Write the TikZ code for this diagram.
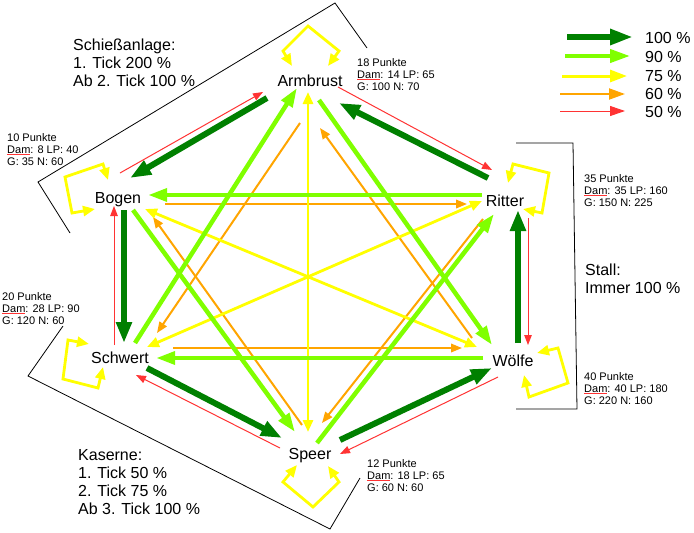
\documentclass[tikz,border=0pt]{standalone}
\usepackage{fontspec}
\setmainfont{Liberation Sans}
\usetikzlibrary{arrows.meta,calc}
\definecolor{dkg}{RGB}{0,128,0}
\definecolor{ltg}{RGB}{128,255,0}
\definecolor{yel}{RGB}{255,255,0}
\definecolor{org}{RGB}{255,165,0}
\definecolor{rd}{RGB}{255,51,51}
\newcommand\dmw{\setbox0\hbox{Dam}\rlap{\textcolor{rd}{\rule[-2pt]{\wd0}{0.8pt}}}\box0}
\tikzset{
  t100/.tip={Triangle[length=21pt,width=15pt]},
  t90/.tip={Triangle[length=19pt,width=12.5pt]},
  t75/.tip={Triangle[length=12pt,width=10pt]},
  t60/.tip={Triangle[length=11pt,width=8.5pt]},
  t50/.tip={Triangle[length=10pt,width=7.5pt]},
  e100/.style={draw=dkg, line width=6pt, -{t100}},
  e90/.style={draw=ltg, line width=4.5pt, -{t90}},
  e75/.style={draw=yel, line width=2.8pt, {t75}-{t75}},
  e60/.style={draw=org, line width=2pt, -{t60}},
  e50/.style={draw=rd, line width=1pt, -{t50}},
  loopy/.style={draw=yel, line width=2.8pt, {t75}-{t75}},
  nd/.style={inner sep=0pt, anchor=base, font=\fontsize{16}{18}\selectfont},
  big/.style={inner sep=0pt, anchor=base west, font=\fontsize{16}{18}\selectfont},
  small/.style={inner sep=0pt, anchor=base west, font=\fontsize{11}{12}\selectfont},
  brk/.style={draw=black, line width=0.8pt},
}
\begin{document}
\begin{tikzpicture}[x=1pt,y=-1pt]
\useasboundingbox (0,0) rectangle (694,533);
\fill[white] (0,0) rectangle (694,533);

% brackets
\draw[brk] (70,233) -- (38,182) -- (335,3) -- (367,48);
\draw[brk] (516,143) -- (573,143) -- (577,409) -- (516,409);
\draw[brk] (63,326) -- (28,376) -- (330,529) -- (360,478);

% nodes
\node[nd] (A) at (310,86) {Armbrust};
\node[nd] (B) at (118,203) {Bogen};
\node[nd] (R) at (505,206) {Ritter};
\node[nd] (S) at (120,363) {Schwert};
\node[nd] (W) at (513,366) {Wölfe};
\node[nd] (P) at (310,459) {Speer};

% orange 60
\draw[e60] ($(B.base)+(47,1)$) -- ($(R.base)+(-38,-2)$);
\draw[e60] ($(S.base)+(53,-15)$) -- ($(W.base)+(-51,-18)$);
\draw[e60] ($(A.base)+(-10,37)$) -- ($(S.base)+(37,-30)$);
\draw[e60] ($(P.base)+(-8,-34)$) -- ($(B.base)+(35,14)$);
\draw[e60] ($(W.base)+(-41,-28)$) -- ($(A.base)+(10,42)$);
\draw[e60] ($(R.base)+(-22,13)$) -- ($(P.base)+(12,-36)$);

% yellow 75
\draw[e75] ($(A.base)+(-2,6)$) -- ($(P.base)+(-2,-27)$);
\draw[e75] ($(B.base)+(27,6)$) -- ($(W.base)+(-36,-19)$);
\draw[e75] ($(S.base)+(27,-16)$) -- ($(R.base)+(-23,-5)$);

% light green 90
\draw[e90] ($(R.base)+(-23,-11)$) -- ($(B.base)+(30,-8)$);
\draw[e90] ($(W.base)+(-30,-8)$) -- ($(S.base)+(36,-5)$);
\draw[e90] ($(S.base)+(15,-20)$) -- ($(A.base)+(-13,2)$);
\draw[e90] ($(P.base)+(7,-16)$) -- ($(R.base)+(-11,8)$);
\draw[e90] ($(B.base)+(15,7)$) -- ($(P.base)+(-15,-27)$);
\draw[e90] ($(A.base)+(9,14)$) -- ($(W.base)+(-21,-21)$);

% dark green 100
\draw[e100] ($(A.base)+(-43,12)$) -- ($(B.base)+(12,-25)$);
\draw[e100] ($(R.base)+(-17,-28)$) -- ($(A.base)+(29,17)$);
\draw[e100] ($(B.base)+(6,7)$) -- ($(S.base)+(4,-20)$);
\draw[e100] ($(W.base)+(5,-23)$) -- ($(R.base)+(13,4)$);
\draw[e100] ($(S.base)+(27,5)$) -- ($(P.base)+(-28,-21)$);
\draw[e100] ($(P.base)+(30,-19)$) -- ($(W.base)+(-21,2)$);

% red 50
\draw[e50] ($(B.base)+(2,-30)$) -- ($(A.base)+(-47,6)$);
\draw[e50] ($(A.base)+(28,1)$) -- ($(R.base)+(-13,-36)$);
\draw[e50] ($(S.base)+(-6,-18)$) -- ($(B.base)+(-4,3)$);
\draw[e50] ($(R.base)+(23,12)$) -- ($(W.base)+(15,-21)$);
\draw[e50] ($(P.base)+(-30,-11)$) -- ($(S.base)+(16,12)$);
\draw[e50] ($(W.base)+(-15,11)$) -- ($(P.base)+(30,-5)$);

% self loops
\draw[loopy, shift={(A.base)}] (-18,-20) -- (-27,-35) -- (-2,-60) -- (29,-35) -- (18,-20);
\draw[loopy, shift={(B.base)}] (-10,-23) -- (-15,-39) -- (-53,-26) -- (-46,10) -- (-23,6);
\draw[loopy, shift={(R.base)}] (3,-23) -- (8,-42) -- (44,-33) -- (37,7) -- (18,3);
\draw[loopy, shift={(S.base)}] (-31,-19) -- (-52,-23) -- (-57,16) -- (-22,25) -- (-17,4);
\draw[loopy, shift={(W.base)}] (24,-13) -- (45,-18) -- (55,17) -- (16,31) -- (11,9);
\draw[loopy, shift={(P.base)}] (-13,6) -- (-27,23) -- (3,48) -- (29,23) -- (18,7);

% text blocks
\node[big] (schiess) at (73,50) {\vtop{\hbox{Schießanlage:}\hbox{1. Tick 200 \%}\hbox{Ab 2. Tick 100 \%}}};
\node[big] (kaserne) at (78,460) {\vtop{\hbox{Kaserne:}\hbox{1. Tick 50 \%}\hbox{2. Tick 75 \%}\hbox{Ab 3. Tick 100 \%}}};
\node[big] (stall) at (585,275) {\vtop{\hbox{Stall:}\hbox{Immer 100 \%}}};

\node[small] (ib) at (7,141) {\vtop{\hbox{10 Punkte}\hbox{\dmw: 8 LP: 40}\hbox{G: 35 N: 60}}};
\node[small] (ia) at (357,66) {\vtop{\hbox{18 Punkte}\hbox{\dmw: 14 LP: 65}\hbox{G: 100 N: 70}}};
\node[small] (ir) at (584,182) {\vtop{\hbox{35 Punkte}\hbox{\dmw: 35 LP: 160}\hbox{G: 150 N: 225}}};
\node[small] (iw) at (584,380) {\vtop{\hbox{40 Punkte}\hbox{\dmw: 40 LP: 180}\hbox{G: 220 N: 160}}};
\node[small] (ip) at (367,467) {\vtop{\hbox{12 Punkte}\hbox{\dmw: 18 LP: 65}\hbox{G: 60 N: 60}}};
\node[small] (is) at (2,300) {\vtop{\hbox{20 Punkte}\hbox{\dmw: 28 LP: 90}\hbox{G: 120 N: 60}}};

% legend
\draw[draw=dkg, line width=6pt, -{Triangle[length=23pt,width=15pt]}] (567,37) -- (633,37);
\draw[draw=ltg, line width=4pt, -{Triangle[length=20pt,width=13pt]}] (565,56) -- (630,56);
\draw[draw=yel, line width=3pt, -{Triangle[length=17pt,width=12pt]}] (562,76) -- (627,76);
\draw[draw=org, line width=2pt, -{Triangle[length=16pt,width=11pt]}] (560,94) -- (625,94);
\draw[draw=rd, line width=1pt, -{Triangle[length=15pt,width=10pt]}] (560,111) -- (625,111);
\node[big] (l100) at (645,43) {100 \%};
\node[big] (l90) at (645,62) {90 \%};
\node[big] (l75) at (645,81) {75 \%};
\node[big] (l60) at (645,99) {60 \%};
\node[big] (l50) at (645,117) {50 \%};
\end{tikzpicture}
\end{document}
